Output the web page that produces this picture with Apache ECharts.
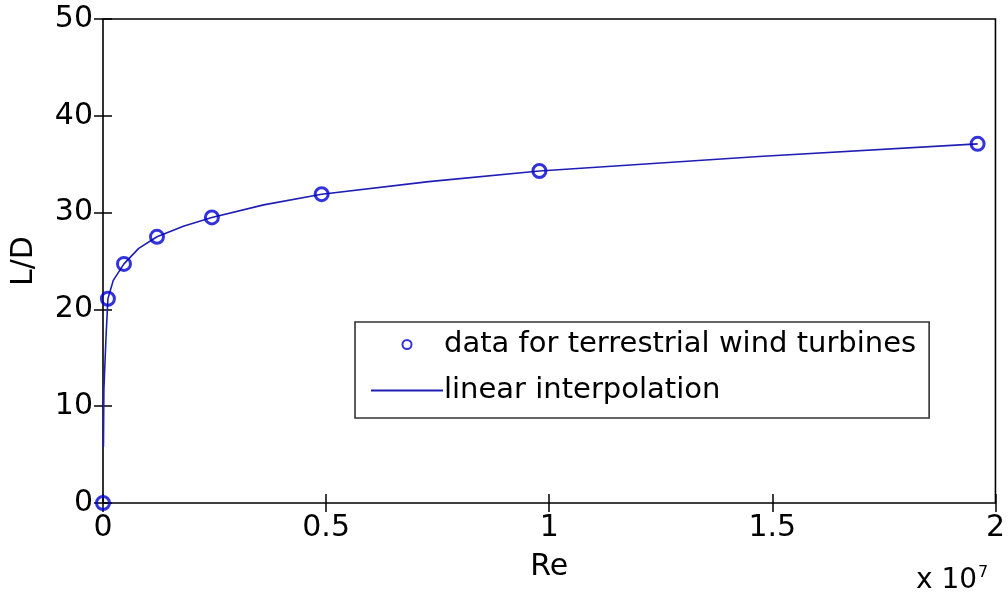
<!DOCTYPE html>
<html>
<head>
<meta charset="utf-8">
<script src="https://cdn.jsdelivr.net/npm/echarts@6/dist/echarts.min.js"></script>
<style>
    html, body { margin: 0; padding: 0; background: #fff; }
    #chart { width: 1008px; height: 600px; }
</style>
</head>
<body>
<div id="chart"></div>
<script>
    // measured points (Re, L/D)
    var dataRe = [0, 1.1e5, 4.7e5, 1.21e6, 2.44e6, 4.9e6, 9.78e6, 1.96e7];
    var dataLD = [0, 21.1, 24.7, 27.5, 29.5, 31.9, 34.3, 37.1];
    // interpolation curve
    var lineRe = [1e4, 2e4, 6.7e4, 1.1e5, 2.3e5, 4.7e5, 8e5, 1.21e6, 1.8e6, 2.44e6, 3.6e6, 4.9e6, 7.3e6, 9.78e6, 1.47e7, 1.96e7];
    var lineLD = [5.8, 11.7, 17.1, 21.1, 23.0, 24.7, 26.3, 27.5, 28.6, 29.5, 30.8, 31.9, 33.2, 34.3, 35.8, 37.1];
    var xTicks = [0, 0.5e7, 1e7, 1.5e7, 2e7];

    var chart = echarts.init(document.getElementById('chart'));
    var font = 'DejaVu Sans, Arial, sans-serif';

    var scatterData = dataRe.map(function (v, i) { return [v, dataLD[i]]; });
    var lineData = lineRe.map(function (v, i) { return [v, lineLD[i]]; });

    var tickStyle = { inside: true, length: 9, lineStyle: { color: '#000', width: 1.5 } };

    var option = {
        backgroundColor: '#fff',
        animation: false,
        grid: {
            left: 103, right: 11, top: 19, bottom: 97,
            show: true, borderColor: '#000', borderWidth: 1.6
        },
        legend: {
            left: 355, top: 322,
            orient: 'vertical',
            backgroundColor: '#fff',
            borderColor: '#333', borderWidth: 1.6,
            padding: [8, 13, 13, 15],
            itemWidth: 72, itemHeight: 9, itemGap: 17,
            textStyle: { fontFamily: font, fontSize: 29, color: '#000', padding: [0, 0, 0, -4] },
            data: [
                { name: 'data for terrestrial wind turbines' },
                { name: 'linear interpolation', itemStyle: { opacity: 0 } }
            ]
        },
        xAxis: [{
            type: 'value', min: 0, max: 2e7, interval: 0.5e7,
            name: 'Re', nameLocation: 'middle', nameGap: 49,
            nameTextStyle: { fontFamily: font, fontSize: 30, color: '#000' },
            axisLine: { show: false },
            axisTick: tickStyle,
            axisLabel: {
                fontFamily: font, fontSize: 30, color: '#000', margin: 10,
                formatter: function (v) { return xTicks.indexOf(v) >= 0 ? String(v / 1e7) : ''; }
            },
            splitLine: { show: false }
        }, {
            type: 'value', min: 0, max: 2e7, interval: 0.5e7, position: 'top',
            axisLine: { show: false },
            axisTick: tickStyle,
            axisLabel: { show: false },
            splitLine: { show: false }
        }],
        yAxis: [{
            type: 'value', min: 0, max: 50, interval: 10,
            name: 'L/D', nameLocation: 'middle', nameGap: 64,
            nameTextStyle: { fontFamily: font, fontSize: 30, color: '#000' },
            axisLine: { show: false },
            axisTick: tickStyle,
            axisLabel: { fontFamily: font, fontSize: 30, color: '#000', margin: 10 },
            splitLine: { show: false }
        }, {
            type: 'value', min: 0, max: 50, interval: 10, position: 'right',
            axisLine: { show: false },
            axisTick: tickStyle,
            axisLabel: { show: false },
            splitLine: { show: false }
        }],
        graphic: [{
            type: 'text', left: 916, top: 565,
            style: {
                text: 'x 10{s|7}',
                rich: { s: { fontSize: 16, verticalAlign: 'top', padding: [0, 0, 16, 1], fontFamily: font, fill: '#000' } },
                font: '28px ' + font, fill: '#000'
            }
        }],
        series: [{
            name: 'linear interpolation',
            type: 'line',
            data: lineData,
            showSymbol: false,
            lineStyle: { color: '#1e1eb4', width: 1.6 },
            itemStyle: { color: '#1e1eb4' },
            z: 2
        }, {
            name: 'data for terrestrial wind turbines',
            type: 'scatter',
            data: scatterData,
            symbol: 'circle',
            symbolSize: 13,
            clip: false,
            itemStyle: { color: 'rgba(255,255,255,0)', borderColor: '#0000d4', borderWidth: 3 },
            z: 3
        }]
    };
    chart.setOption(option);
</script>
</body>
</html>
